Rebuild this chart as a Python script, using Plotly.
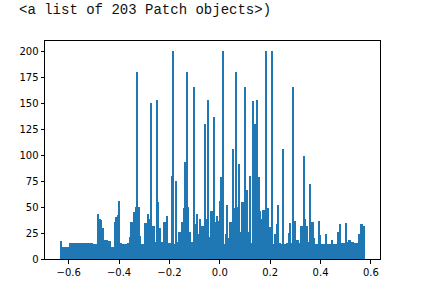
import numpy as np
import plotly.graph_objects as go

# histogram settings
bin_start = -0.633
bin_end = 0.575
counts = [
    17, 12, 12, 12, 12, 12, 15, 15, 15, 15,
    15, 15, 15, 15, 15, 15, 15, 15, 15, 15,
    15, 15, 14, 14, 14, 43, 39, 38, 30, 18,
    18, 18, 17, 17, 12, 12, 36, 40, 42, 56,
    15, 14, 14, 14, 14, 15, 21, 36, 36, 45,
    50, 180, 50, 22, 14, 14, 35, 35, 43, 39,
    150, 32, 32, 16, 153, 55, 30, 16, 16, 36,
    36, 41, 15, 15, 80, 200, 14, 75, 16, 26,
    26, 36, 49, 93, 180, 50, 26, 16, 16, 166,
    34, 43, 24, 39, 32, 32, 130, 39, 153, 21,
    46, 46, 137, 36, 41, 37, 56, 79, 200, 14,
    24, 52, 20, 36, 36, 106, 49, 180, 50, 92,
    26, 55, 55, 166, 66, 26, 80, 15, 152, 130,
    130, 153, 79, 46, 39, 47, 47, 200, 49, 31,
    31, 200, 14, 24, 34, 52, 15, 14, 106, 14,
    14, 15, 25, 35, 15, 166, 37, 18, 18, 15,
    32, 32, 99, 39, 32, 16, 72, 36, 36, 20,
    14, 14, 37, 23, 14, 14, 14, 24, 14, 14,
    14, 18, 14, 14, 14, 26, 34, 15, 15, 15,
    35, 16, 18, 18, 16, 16, 15, 15, 15, 24,
    34, 34, 32,
]
title_text = "<a list of 203 Patch objects>)"
x_tick_vals = [-0.6, -0.4, -0.2, 0.0, 0.2, 0.4, 0.6]
x_tick_text = ["\u22120.6", "\u22120.4", "\u22120.2", "0.0", "0.2", "0.4", "0.6"]
y_tick_vals = [0, 25, 50, 75, 100, 125, 150, 175, 200]

edges = np.linspace(bin_start, bin_end, len(counts) + 1)
centers = (edges[:-1] + edges[1:]) / 2
width = edges[1] - edges[0]

fig = go.Figure(go.Bar(
    x=centers, y=counts, width=width,
    marker=dict(color="#1f77b4", line=dict(width=0)),
    hoverinfo="skip",
))

axis_common = dict(
    showline=True, linecolor="black", linewidth=1, mirror=True,
    ticks="outside", ticklen=3.5, tickwidth=1, tickcolor="black",
    showgrid=False, zeroline=False,
    tickfont=dict(family="DejaVu Sans", size=10, color="black"),
)

fig.update_layout(
    width=435, height=291,
    margin=dict(l=45, r=55, t=41, b=32),
    paper_bgcolor="white", plot_bgcolor="white",
    bargap=0, showlegend=False,
    xaxis=dict(range=[-0.694, 0.636], tickvals=x_tick_vals, ticktext=x_tick_text, **axis_common),
    yaxis=dict(range=[0, 210], tickvals=y_tick_vals, **axis_common),
    annotations=[dict(
        text=title_text.replace("<", "&lt;").replace(">", "&gt;"),
        xref="paper", yref="paper", x=-45/335, y=1 + 31/218,
        xanchor="left", yanchor="middle", showarrow=False,
        xshift=18, borderpad=0,
        font=dict(family="Liberation Mono", size=14, color="#111111"),
    )],
)

fig.write_html("out.html")
